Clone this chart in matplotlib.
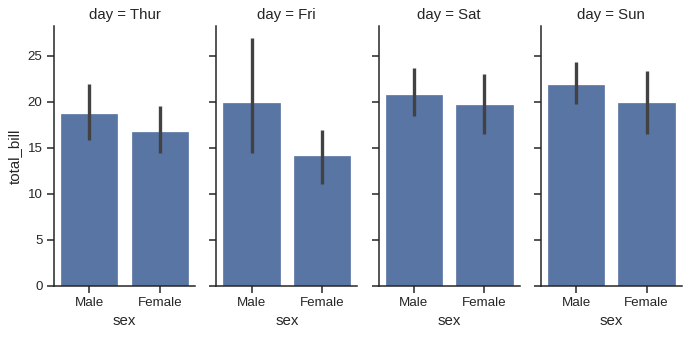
import matplotlib
matplotlib.use("Agg")
import matplotlib.pyplot as plt

days = ["Thur", "Fri", "Sat", "Sun"]
sexes = ["Male", "Female"]
means = {
    "Thur": [18.71, 16.72],
    "Fri": [19.86, 14.15],
    "Sat": [20.80, 19.68],
    "Sun": [21.89, 19.87],
}
ci_low = {
    "Thur": [15.9, 14.4],
    "Fri": [14.5, 11.1],
    "Sat": [18.5, 16.5],
    "Sun": [19.8, 16.5],
}
ci_high = {
    "Thur": [22.0, 19.6],
    "Fri": [26.9, 17.0],
    "Sat": [23.7, 23.0],
    "Sun": [24.3, 23.4],
}
yticks = [0, 5, 10, 15, 20, 25]

plt.rcParams["font.family"] = ["Liberation Sans", "DejaVu Sans"]
text_col = "#262626"
spine_col = "#262626"
bar_col = "#5875a4"
err_col = "#424242"

fig = plt.figure(figsize=(6.89, 3.37), dpi=100)
W, H = 689, 337
left0, step, aw = 54, 162.3, 141
bottom_px, top_px = 286, 26

axes = []
for i, day in enumerate(days):
    l = left0 + i * step
    ax = fig.add_axes([l / W, (H - bottom_px) / H, aw / W, (bottom_px - top_px) / H],
                      sharey=axes[0] if axes else None)
    axes.append(ax)
    x = list(range(len(sexes)))
    ax.bar(x, means[day], width=0.8, color=bar_col, edgecolor=bar_col, linewidth=0.5)
    for xi, lo, hi in zip(x, ci_low[day], ci_high[day]):
        ax.plot([xi, xi], [lo, hi], color=err_col, linewidth=2.4, solid_capstyle="butt", zorder=3)
    ax.set_xlim(-0.5, 1.5)
    ax.set_ylim(0, 28.25)
    ax.set_xticks(x)
    ax.set_xticklabels(sexes)
    ax.set_yticks(yticks)
    for s in ["top", "right"]:
        ax.spines[s].set_visible(False)
    for s in ["left", "bottom"]:
        ax.spines[s].set_color(spine_col)
        ax.spines[s].set_linewidth(1.1)
    ax.tick_params(axis="both", colors=spine_col, labelcolor=text_col, labelsize=9.6,
                   length=5.2, width=1.1, pad=3)
    ax.set_xlabel("sex", fontsize=10.8, color=text_col, labelpad=3)
    ax.set_title(f"day = {day}", fontsize=10.8, color=text_col, pad=5)
    if i == 0:
        ax.set_ylabel("total_bill", fontsize=10.8, color=text_col)
    else:
        ax.tick_params(axis="y", labelleft=False)

fig.savefig("out.png", dpi=100, facecolor="white")
